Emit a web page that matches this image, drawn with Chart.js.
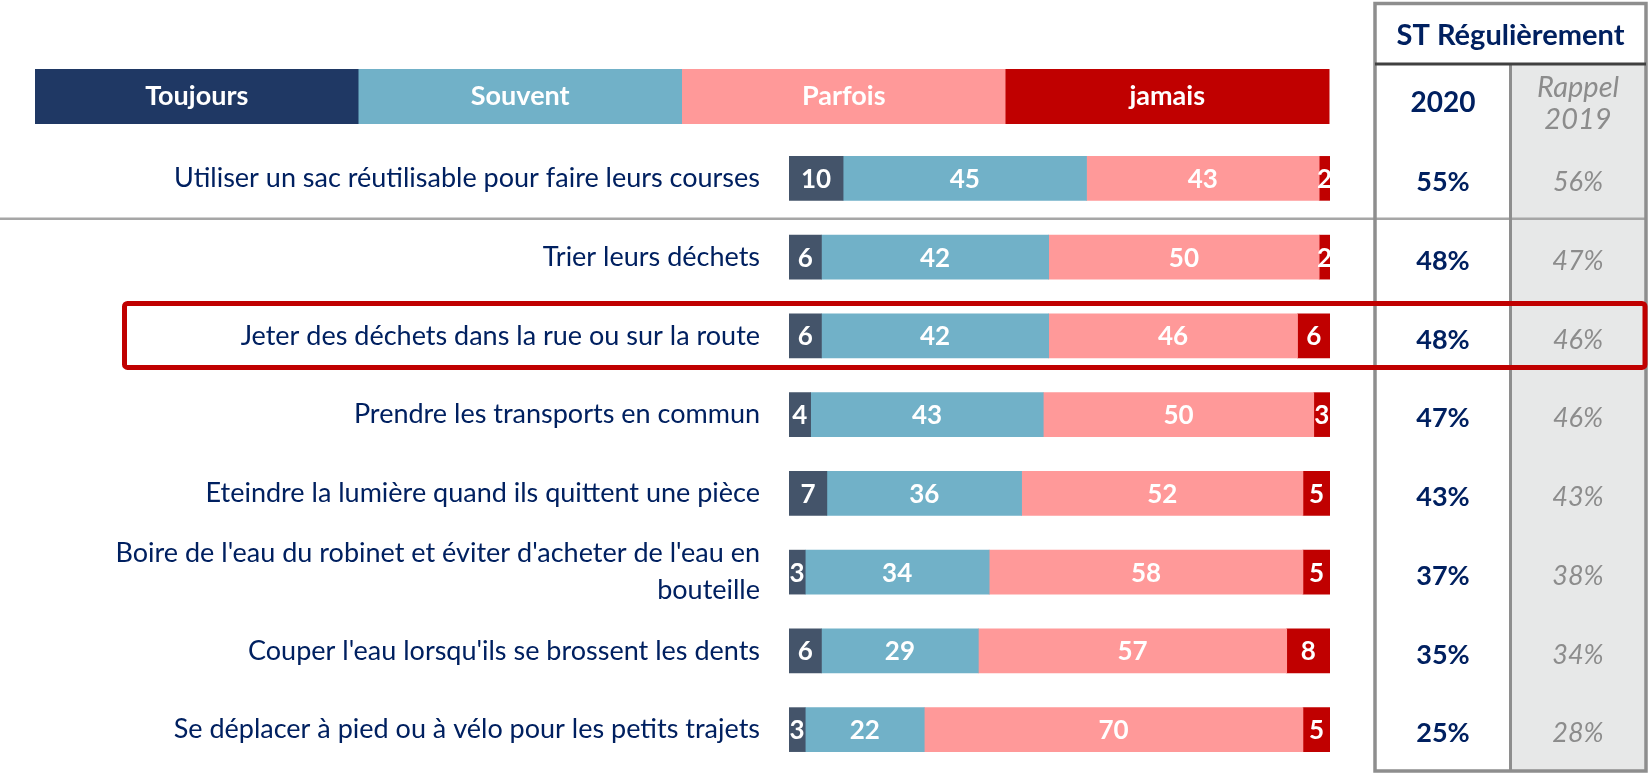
<!DOCTYPE html>
<html>
<head>
<meta charset="utf-8">
<script src="https://cdn.jsdelivr.net/npm/chart.js@4.4.1/dist/chart.umd.min.js"></script>
<style>
  html, body { margin: 0; padding: 0; background: #fff; }
  #wrap { width: 1648px; height: 773px; position: relative; }
</style>
</head>
<body>
<div id="wrap"><canvas id="chart" width="1648" height="773"></canvas></div>
<script>
const categories = [
  'Utiliser un sac réutilisable pour faire leurs courses',
  'Trier leurs déchets',
  'Jeter des déchets dans la rue ou sur la route',
  'Prendre les transports en commun',
  'Eteindre la lumière quand ils quittent une pièce',
  ["Boire de l'eau du robinet et éviter d'acheter de l'eau en", 'bouteille'],
  "Couper l'eau lorsqu'ils se brossent les dents",
  'Se déplacer à pied ou à vélo pour les petits trajets'
];
const seriesNames = ['Toujours', 'Souvent', 'Parfois', 'jamais'];
const toujours = [10, 6, 6, 4, 7, 3, 6, 3];
const souvent = [45, 42, 42, 43, 36, 34, 29, 22];
const parfois = [43, 50, 46, 50, 52, 58, 57, 70];
const jamais = [2, 2, 6, 3, 5, 5, 8, 5];
const st2020 = [55, 48, 48, 47, 43, 37, 35, 25];
const rappel2019 = [56, 47, 46, 46, 43, 38, 34, 28];
const tableTitle = 'ST Régulièrement';
const colNow = '2020';
const colPrev = ['Rappel', '2019'];
const highlightRow = 2;

const NAVY = '#002060';
const barColors = ['#44546a', '#71b1c8', '#ff9999', '#c00000'];
const legendColors = ['#1f3864', '#71b1c8', '#ff9999', '#c00000'];
const FONT = 'Lato, "Open Sans", sans-serif';

// white value labels centred in each segment
const segmentLabels = {
  id: 'segmentLabels',
  afterDatasetsDraw(chart) {
    const { ctx, chartArea: a } = chart;
    ctx.save();
    ctx.beginPath();
    ctx.rect(a.left, a.top, a.right - a.left, a.bottom - a.top);
    ctx.clip();
    ctx.fillStyle = '#fff';
    ctx.font = 'bold 26px ' + FONT;
    ctx.textAlign = 'center';
    ctx.textBaseline = 'middle';
    chart.data.datasets.forEach((ds, i) => {
      chart.getDatasetMeta(i).data.forEach((bar, j) => {
        ctx.fillText(String(ds.data[j]), (bar.x + bar.base) / 2, bar.y + 1);
      });
    });
    ctx.restore();
  }
};

// legend strip, side table, separator and highlight box
const decorations = {
  id: 'decorations',
  afterDraw(chart) {
    const { ctx } = chart;
    const y = chart.scales.y;
    ctx.save();

    // legend strip
    const lx = 35, lw = 1294 / 4, ly = 69, lh = 55;
    seriesNames.forEach((name, i) => {
      ctx.fillStyle = legendColors[i];
      ctx.fillRect(lx + i * lw, ly, lw + 0.5, lh);
      ctx.fillStyle = '#fff';
      ctx.font = 'bold 27px ' + FONT;
      ctx.textAlign = 'center';
      ctx.textBaseline = 'middle';
      ctx.fillText(name, lx + i * lw + lw / 2, ly + lh / 2);
    });

    // table
    const tL = 1375, tR = 1646, tT = 3.5, tB = 771, hB = 64, cMid = 1510.5;
    ctx.fillStyle = '#e7e8e8';
    ctx.fillRect(cMid, hB, tR - cMid, tB - hB);

    // separator under first row
    const sepY = (y.getPixelForValue(0) + y.getPixelForValue(1)) / 2 + 1;
    ctx.strokeStyle = '#a6a6a6';
    ctx.lineWidth = 2.5;
    ctx.beginPath();
    ctx.moveTo(0, sepY);
    ctx.lineTo(tR, sepY);
    ctx.stroke();

    ctx.strokeStyle = '#8e8e8e';
    ctx.lineWidth = 3.5;
    ctx.strokeRect(tL, tT, tR - tL, tB - tT);
    ctx.lineWidth = 3;
    ctx.beginPath();
    ctx.moveTo(cMid, hB);
    ctx.lineTo(cMid, tB);
    ctx.stroke();
    ctx.strokeStyle = '#404040';
    ctx.beginPath();
    ctx.moveTo(tL, hB);
    ctx.lineTo(tR, hB);
    ctx.stroke();

    const xNow = 1443, xPrev = 1578;
    ctx.textAlign = 'center';
    ctx.textBaseline = 'middle';
    ctx.fillStyle = NAVY;
    ctx.font = 'bold 29px ' + FONT;
    ctx.fillText(tableTitle, (tL + tR) / 2, 36);
    ctx.font = 'bold 28px ' + FONT;
    ctx.fillText(colNow, xNow, 103);
    ctx.fillStyle = '#8c8c8c';
    ctx.font = 'italic 29px ' + FONT;
    ctx.fillText(colPrev[0], xPrev, 88);
    ctx.fillText(colPrev[1], xPrev, 120);

    st2020.forEach((v, i) => {
      const py = y.getPixelForValue(i) + 4;
      ctx.fillStyle = NAVY;
      ctx.font = 'bold 27px ' + FONT;
      ctx.fillText(v + '%', xNow, py);
      ctx.fillStyle = '#8c8c8c';
      ctx.font = 'italic 27px ' + FONT;
      ctx.fillText(rappel2019[i] + '%', xPrev, py);
    });

    // highlighted row
    const hy = y.getPixelForValue(highlightRow);
    ctx.strokeStyle = '#c00000';
    ctx.lineWidth = 5;
    ctx.beginPath();
    ctx.roundRect(124.5, hy - 32.5, 1645 - 124.5, 64, 3);
    ctx.stroke();

    ctx.restore();
  }
};

const values = [toujours, souvent, parfois, jamais];

new Chart(document.getElementById('chart'), {
  type: 'bar',
  data: {
    labels: categories,
    datasets: seriesNames.map((name, i) => ({
      label: name,
      data: values[i],
      backgroundColor: barColors[i],
      borderWidth: 0,
      barThickness: 44
    }))
  },
  options: {
    indexAxis: 'y',
    responsive: false,
    animation: false,
    layout: { padding: { top: 139, right: 318, bottom: 4, left: 0 } },
    scales: {
      x: { stacked: true, min: 0, max: 100, display: false },
      y: {
        stacked: true,
        grid: { display: false, drawTicks: false },
        border: { display: false },
        afterFit(scale) {
          scale.width = 789;
          scale.paddingTop = 0;
          scale.paddingBottom = 0;
        },
        ticks: {
          color: NAVY,
          padding: 29,
          font: { family: FONT, size: 27, lineHeight: 1.37 }
        }
      }
    },
    plugins: {
      legend: { display: false },
      tooltip: { enabled: false }
    }
  },
  plugins: [segmentLabels, decorations]
});
</script>
</body>
</html>
